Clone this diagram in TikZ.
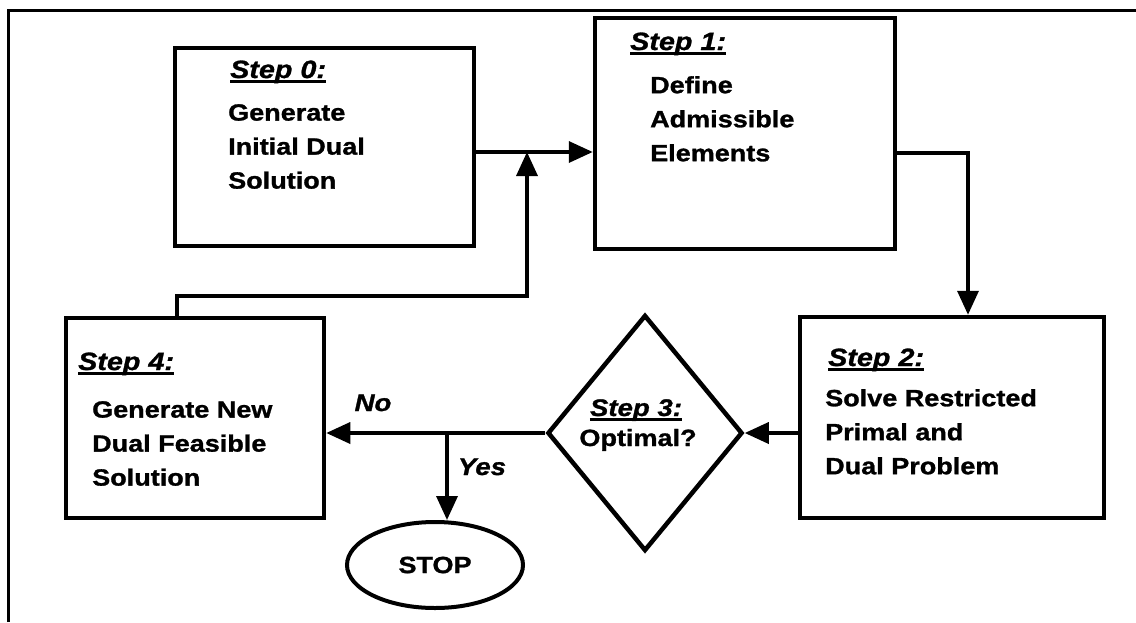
\documentclass[tikz,border=0pt]{standalone}
\usepackage{fontspec}
\setmainfont{Liberation Sans}[FakeStretch=1.15,BoldFeatures={FakeBold=1.2},BoldItalicFeatures={FakeBold=1.2}]
\usetikzlibrary{arrows.meta,shapes.geometric}
\newcommand\stepul[1]{\setbox0\hbox{#1}\rlap{\rule[-4.5pt]{\wd0}{2.2pt}}\box0}
\begin{document}
\begin{tikzpicture}[x=1pt,y=-1pt,
  box/.style={draw,line width=4.5pt,rectangle,inner sep=0pt},
  conn/.style={line width=3.5pt},
  tip/.style={-{Triangle[length=24pt,width=21pt]}},
  lab/.style={anchor=base west,inner sep=0pt,font=\bfseries\itshape\fontsize{25}{30}\selectfont},
  body/.style={anchor=north west,inner sep=0pt,align=left,font=\bfseries\fontsize{23.5}{34}\selectfont},
  ctext/.style={anchor=base,inner sep=0pt,font=\bfseries\fontsize{23.5}{28}\selectfont},
  itext/.style={anchor=base,inner sep=0pt,font=\bfseries\itshape\fontsize{24}{28}\selectfont},
]
\useasboundingbox (0,0) rectangle (1136,622);
% outer frame
\draw[line width=3pt] (8,622) -- (8,10) -- (1136,10);

% boxes
\node[box,minimum width=299pt,minimum height=198pt] (s0) at (324.5,147) {};
\node[box,minimum width=300pt,minimum height=231pt] (s1) at (745,133.5) {};
\node[box,minimum width=304pt,minimum height=201pt] (s2) at (952,417.5) {};
\node[box,minimum width=258pt,minimum height=200pt] (s4) at (195,418) {};
\node[draw,line width=4.5pt,shape=diamond,inner sep=0pt,minimum width=195pt,minimum height=236pt] (d) at (645,433) {};
\node[draw,line width=4pt,ellipse,inner sep=0pt,minimum width=176pt,minimum height=86pt,font=\bfseries\fontsize{23.5}{28}\selectfont] (stop) at (435,565) {STOP};

% texts
\node[lab] (l0) at (230,78) {\stepul{Step 0:}};
\node[body] (b0) at (228,104) {Generate\\Initial Dual\\Solution};
\node[lab] (l1) at (630,50) {\stepul{Step 1:}};
\node[body] (b1) at (650,76) {Define\\Admissible\\Elements};
\node[lab] (l2) at (828,366) {\stepul{Step 2:}};
\node[body] (b2) at (825,389) {Solve Restricted\\Primal and\\Dual Problem};
\node[lab] (l4) at (78,370) {\stepul{Step 4:}};
\node[body] (b4) at (92,401) {Generate New\\Dual Feasible\\Solution};
\node[itext] (l3) at (636,416) {\stepul{Step 3:}};
\node[ctext] (t3) at (638,446) {Optimal?};
\node[itext] (no) at (373,411) {No};
\node[itext] (yes) at (482,475) {Yes};

% connectors
\coordinate (j) at (527,152);
\coordinate (c4) at (177,296);
\coordinate (c1) at (968,153);
\coordinate (c3) at (447,0);
\draw[conn,tip] (s0.east |- j) -- (s1.west |- j);
\draw[conn,tip] (s4.north -| c4) -- (c4) -- (c4 -| j) -- (j);
\draw[conn,tip] (s1.east |- c1) -- (c1) -- (c1 |- s2.north);
\draw[conn,tip] (s2.west |- d.east) -- (d.east);
\draw[conn,tip] (d.west) -- (d.west -| s4.east);
\draw[conn,tip] (d.west -| c3) -- (c3 |- stop.north);
\end{tikzpicture}
\end{document}
